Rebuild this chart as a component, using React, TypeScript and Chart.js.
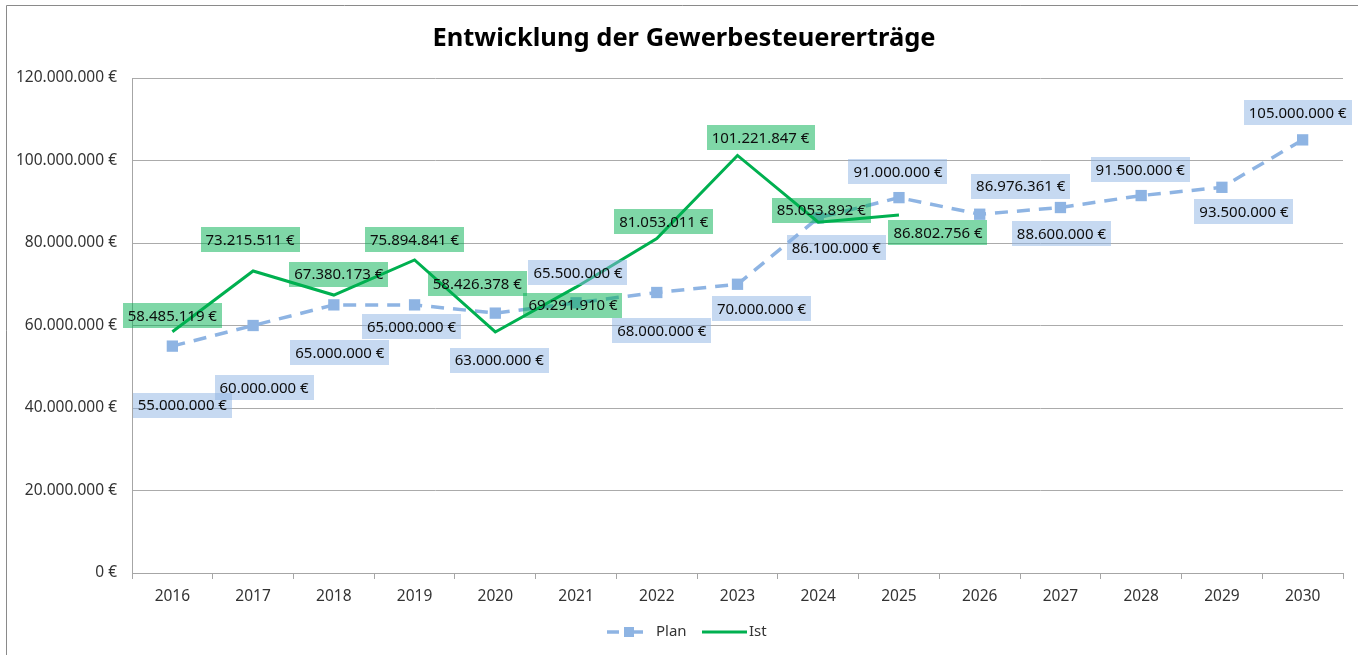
import React, { useEffect, useRef } from "react";
import { Chart, registerables } from "chart.js";

Chart.register(...registerables);

const years = ["2016", "2017", "2018", "2019", "2020", "2021", "2022", "2023", "2024", "2025", "2026", "2027", "2028", "2029", "2030"];
const planValues = [55000000, 60000000, 65000000, 65000000, 63000000, 65500000, 68000000, 70000000, 86100000, 91000000, 86976361, 88600000, 91500000, 93500000, 105000000];
const istValues = [58485119, 73215511, 67380173, 75894841, 58426378, 69291910, 81053011, 101221847, 85053892, 86802756, null, null, null, null, null];
const yMin = 0;
const yMax = 120000000;
const yStep = 20000000;

// label placement (pixel offsets from point) – style only
const planLabelOffsets = [[10, 59], [11, 62], [6, 48], [-3, 22], [4, 47], [2, -30], [5, 38], [24, 24], [18, 30], [-1, -26], [41, -28], [1, 26], [-1, -26], [22, 24], [-5, -27]];
const istLabelOffsets = [[0, -16], [-3, -31], [5, -21], [0, -20], [-18, -48], [-3, 18], [7, -17], [23, -18], [3, -12], [39, 18]];

const PLAN_COLOR = "#8EB4E3";
const IST_COLOR = "#00B050";
const PLAN_BG = "rgba(142,180,227,0.5)";
const IST_BG = "rgba(0,176,80,0.5)";
const FONT = "'Noto Sans', sans-serif";

function fmt(v: number): string {
  const s = Math.round(v).toString();
  return s.replace(/\B(?=(\d{3})+(?!\d))/g, ".") + " €";
}

const decorPlugin = {
  id: "decor",
  beforeDraw(chart: any) {
    const ctx = chart.ctx;
    ctx.save();
    ctx.fillStyle = "#ffffff";
    ctx.fillRect(0, 0, chart.width, chart.height);
    ctx.strokeStyle = "#8a8a8a";
    ctx.lineWidth = 1;
    ctx.beginPath();
    ctx.moveTo(6.5, chart.height);
    ctx.lineTo(6.5, 5.5);
    ctx.lineTo(chart.width, 5.5);
    ctx.stroke();
    // title
    ctx.fillStyle = "#000000";
    ctx.font = `bold 25.5px ${FONT}`;
    ctx.textAlign = "center";
    ctx.textBaseline = "middle";
    ctx.fillText("Entwicklung der Gewerbesteuererträge", 684, 39);
    ctx.restore();
  },
  afterDatasetsDraw(chart: any) {
    const ctx = chart.ctx;
    ctx.save();
    ctx.font = `15px ${FONT}`;
    ctx.textAlign = "center";
    ctx.textBaseline = "middle";
    const drawSet = (dsIndex: number, values: (number | null)[], offsets: number[][], bg: string) => {
      const meta = chart.getDatasetMeta(dsIndex);
      values.forEach((v, i) => {
        if (v === null || v === undefined) return;
        const el = meta.data[i];
        if (!el) return;
        const off = offsets[i] || [0, -20];
        const cx = el.x + off[0];
        const cy = el.y + off[1];
        const text = fmt(v);
        const w = ctx.measureText(text).width + 10;
        const h = 25;
        ctx.fillStyle = bg;
        ctx.fillRect(Math.round(cx - w / 2), Math.round(cy - h / 2), Math.round(w), h);
        ctx.fillStyle = "#0d0d0d";
        ctx.fillText(text, cx, cy + 1);
      });
    };
    drawSet(0, planValues, planLabelOffsets, PLAN_BG);
    drawSet(1, istValues, istLabelOffsets, IST_BG);
    ctx.restore();
  },
  afterDraw(chart: any) {
    const ctx = chart.ctx;
    ctx.save();
    const y = 632;
    // Plan legend
    ctx.strokeStyle = PLAN_COLOR;
    ctx.lineWidth = 3.5;
    ctx.beginPath();
    ctx.moveTo(607, y);
    ctx.lineTo(619, y);
    ctx.moveTo(633, y);
    ctx.lineTo(643, y);
    ctx.stroke();
    ctx.fillStyle = PLAN_COLOR;
    ctx.fillRect(624, y - 5, 10, 10);
    ctx.fillStyle = "#333333";
    ctx.font = `15px ${FONT}`;
    ctx.textAlign = "left";
    ctx.textBaseline = "middle";
    ctx.fillText("Plan", 656, y);
    // Ist legend
    ctx.strokeStyle = IST_COLOR;
    ctx.lineWidth = 3;
    ctx.beginPath();
    ctx.moveTo(702, y);
    ctx.lineTo(747, y);
    ctx.stroke();
    ctx.fillText("Ist", 749, y);
    ctx.restore();
  },
};

export default function App() {
  const ref = useRef<HTMLCanvasElement>(null);
  useEffect(() => {
    document.body.style.margin = "0";
    document.body.style.overflow = "hidden";
    const canvas = ref.current;
    if (!canvas) return;
    const chart = new Chart(canvas, {
      type: "line",
      data: {
        labels: years,
        datasets: [
          {
            label: "Plan",
            data: planValues,
            borderColor: PLAN_COLOR,
            backgroundColor: PLAN_COLOR,
            borderWidth: 3.5,
            borderDash: [13, 9],
            pointStyle: "rect",
            pointRadius: 8,
            pointBorderWidth: 0,
            pointBackgroundColor: PLAN_COLOR,
            tension: 0,
            order: 2,
          },
          {
            label: "Ist",
            data: istValues,
            borderColor: IST_COLOR,
            backgroundColor: IST_COLOR,
            borderWidth: 3,
            pointRadius: 0,
            tension: 0,
            order: 1,
          },
        ],
      },
      options: {
        responsive: false,
        animation: false,
        layout: { padding: { left: 0, right: 15, top: 78, bottom: 0 } },
        plugins: {
          legend: { display: false },
          title: { display: false },
          tooltip: { enabled: false },
        },
        scales: {
          x: {
            offset: true,
            grid: {
              offset: true,
              drawOnChartArea: false,
              drawTicks: true,
              tickLength: 6,
              color: "#A6A6A6",
            },
            border: { display: true, color: "#A6A6A6", width: 1 },
            ticks: {
              color: "#333333",
              font: { family: FONT, size: 15.5 },
              padding: 8,
              maxRotation: 0,
              autoSkip: false,
            },
            afterFit: (scale: any) => {
              scale.height = 82;
            },
          },
          y: {
            min: yMin,
            max: yMax,
            grid: { color: "#ABABAB", drawTicks: false },
            border: { display: true, color: "#A6A6A6", width: 1 },
            ticks: {
              stepSize: yStep,
              color: "#333333",
              font: { family: FONT, size: 15.5 },
              padding: 15,
              callback: (v: any) => fmt(Number(v)),
            },
            afterFit: (scale: any) => {
              scale.width = 132;
            },
          },
        },
      },
      plugins: [decorPlugin],
    });
    return () => chart.destroy();
  }, []);
  return (
    <div style={{ width: 1358, height: 655 }}>
      <canvas ref={ref} width={1358} height={655} style={{ display: "block" }} />
    </div>
  );
}
